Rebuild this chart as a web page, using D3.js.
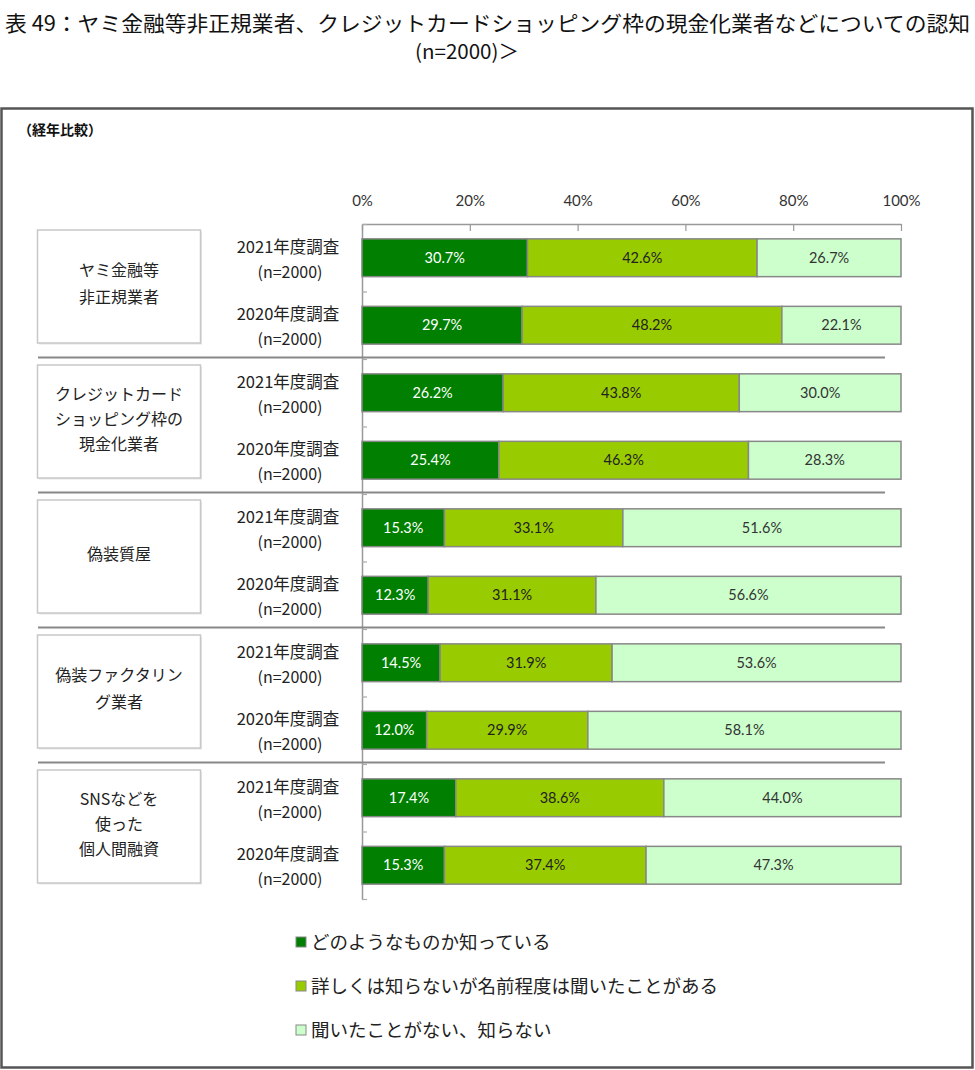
<!DOCTYPE html>
<html><head><meta charset="utf-8">
<script src="https://cdn.jsdelivr.net/npm/d3@7"></script>
<style>
html,body{margin:0;padding:0;background:#fff;}
svg{display:block;}
</style>
</head><body>
<svg id="chart" width="975" height="1070"></svg>
<script>
const titleLine1 = "表 49：ヤミ金融等非正規業者、クレジットカードショッピング枠の現金化業者などについての認知";
const titleLine2 = "(n=2000)＞";
const subTitle = "（経年比較）";
const groups = [
  ["ヤミ金融等","非正規業者"],
  ["クレジットカード","ショッピング枠の","現金化業者"],
  ["偽装質屋"],
  ["偽装ファクタリン","グ業者"],
  ["SNSなどを","使った","個人間融資"]
];
const years = ["2021年度調査","2020年度調査"];
const nLabel = "(n=2000)";
const series = ["どのようなものか知っている","詳しくは知らないが名前程度は聞いたことがある","聞いたことがない、知らない"];
const known   = [30.7, 29.7, 26.2, 25.4, 15.3, 12.3, 14.5, 12.0, 17.4, 15.3];
const heard   = [42.6, 48.2, 43.8, 46.3, 33.1, 31.1, 31.9, 29.9, 38.6, 37.4];
const unknown = [26.7, 22.1, 30.0, 28.3, 51.6, 56.6, 53.6, 58.1, 44.0, 47.3];
const tickValues = [0, 20, 40, 60, 80, 100];
const colors = ["#007f00", "#99cc00", "#ccffcc"];
const textColors = ["#ffffff", "#222222", "#333333"];

const svg = d3.select("#chart");
const jp = "'Noto Sans CJK JP','Noto Sans',sans-serif";
const lat = "Lato,'Open Sans',sans-serif";

// title
svg.append("text").attr("x", 5).attr("y", 31)
  .attr("textLength", 965).attr("lengthAdjust", "spacingAndGlyphs")
  .style("font-family", jp).style("font-size", "21px").style("fill", "#111")
  .text(titleLine1);
svg.append("text").attr("x", 467).attr("y", 59).attr("text-anchor", "middle")
  .attr("textLength", 104).attr("lengthAdjust", "spacingAndGlyphs")
  .style("font-family", jp).style("font-size", "20px").style("fill", "#111")
  .text(titleLine2);

// frame
svg.append("rect").attr("x", 1.5).attr("y", 108.5).attr("width", 971).attr("height", 959)
  .attr("fill", "none").attr("stroke", "#555").attr("stroke-width", 2.5);
svg.append("text").attr("x", 18).attr("y", 135)
  .style("font-family", jp).style("font-size", "14px").style("font-weight", "bold").style("fill", "#111")
  .text(subTitle);

// rows
const rows = [];
groups.forEach((g, gi) => years.forEach((y, yi) => rows.push({g: gi, y: yi, key: gi + "-" + yi})));
const data = rows.map((r, i) => ({...r, vals: [known[i], heard[i], unknown[i]]}));

const x = d3.scaleLinear().domain([0, 100]).range([362, 901]);
const yB = d3.scaleBand().domain(rows.map(r => r.key)).range([224, 899]).paddingInner(0.44).paddingOuter(0.22);
const yIdx = d3.scaleLinear().domain([0, rows.length]).range([224, 899]);

// top axis
const ax = svg.append("g").attr("transform", "translate(0,224)")
  .call(d3.axisTop(x).tickValues(tickValues).tickFormat(d => d + "%").tickSizeInner(-7).tickSizeOuter(0).tickPadding(18));
ax.select(".domain").attr("stroke", "#999").attr("stroke-width", 1.5);
ax.selectAll(".tick line").attr("stroke", "#999").attr("stroke-width", 1.2);
ax.selectAll(".tick text").style("font-family", lat).style("font-size", "15px").style("fill", "#333");

// left axis
const ay = svg.append("g").attr("transform", "translate(362,0)")
  .call(d3.axisRight(yIdx).tickValues(d3.range(0, rows.length + 1)).tickFormat("").tickSize(5).tickSizeOuter(0));
ay.select(".domain").attr("stroke", "#999").attr("stroke-width", 1.5);
ay.selectAll(".tick line").attr("stroke", "#aaa").attr("stroke-width", 1.2);

// group separators
svg.append("g").selectAll("line").data([2, 4, 6, 8]).join("line")
  .attr("x1", 38).attr("x2", 885)
  .attr("y1", d => yIdx(d) - 1.5).attr("y2", d => yIdx(d) - 1.5)
  .attr("stroke", "#888").attr("stroke-width", 2);

// bars
const segs = [];
data.forEach(d => {
  let acc = 0;
  d.vals.forEach((v, si) => { segs.push({key: d.key, s: si, x0: acc, x1: acc + v, v}); acc += v; });
});
const bars = svg.append("g");
bars.selectAll("rect").data(segs).join("rect")
  .attr("x", d => x(d.x0)).attr("width", d => x(d.x1) - x(d.x0))
  .attr("y", d => yB(d.key)).attr("height", yB.bandwidth())
  .attr("fill", d => colors[d.s]).attr("stroke", "#888").attr("stroke-width", 1.5);
bars.selectAll("text").data(segs).join("text")
  .attr("x", d => (x(d.x0) + x(d.x1)) / 2).attr("y", d => yB(d.key) + yB.bandwidth() / 2 + 5)
  .attr("text-anchor", "middle")
  .style("font-family", lat).style("font-size", "14.5px").style("fill", d => textColors[d.s])
  .text(d => d.v.toFixed(1) + "%");

// row labels
const rl = svg.append("g");
data.forEach(d => {
  const cy = yB(d.key) + yB.bandwidth() / 2;
  rl.append("text").attr("x", 288).attr("y", cy - 5).attr("text-anchor", "middle")
    .style("font-family", jp).style("font-size", "16.5px").style("fill", "#222").text(years[d.y]);
  rl.append("text").attr("x", 290).attr("y", cy + 20).attr("text-anchor", "middle")
    .style("font-family", jp).style("font-size", "16px").style("fill", "#222").text(nLabel);
});

// group boxes
const gb = svg.append("g");
groups.forEach((g, gi) => {
  const top = yIdx(gi * 2) + 6;
  const h = 113;
  gb.append("rect").attr("x", 39).attr("y", top + 1.5).attr("width", 163).attr("height", h)
    .attr("fill", "#e6e6e6");
  gb.append("rect").attr("x", 37.5).attr("y", top).attr("width", 163).attr("height", h)
    .attr("fill", "#fff").attr("stroke", "#c8c8c8").attr("stroke-width", 1.5);
  const cy = top + h / 2 - 3;
  const lh = g.length === 3 ? 25 : 27;
  g.forEach((line, li) => {
    gb.append("text").attr("x", 119).attr("y", cy + (li - (g.length - 1) / 2) * lh + 6)
      .attr("text-anchor", "middle")
      .style("font-family", jp).style("font-size", "16px").style("fill", "#222").text(line);
  });
});

// legend
const lg = svg.append("g");
series.forEach((s, i) => {
  const ly = 943 + i * 44;
  lg.append("rect").attr("x", 296).attr("y", ly - 6).attr("width", 10).attr("height", 10)
    .attr("fill", colors[i]).attr("stroke", "#888").attr("stroke-width", 1);
  lg.append("text").attr("x", 311).attr("y", ly + 6)
    .style("font-family", jp).style("font-size", "18.5px").style("fill", "#222").text(s);
});
</script>
</body></html>
